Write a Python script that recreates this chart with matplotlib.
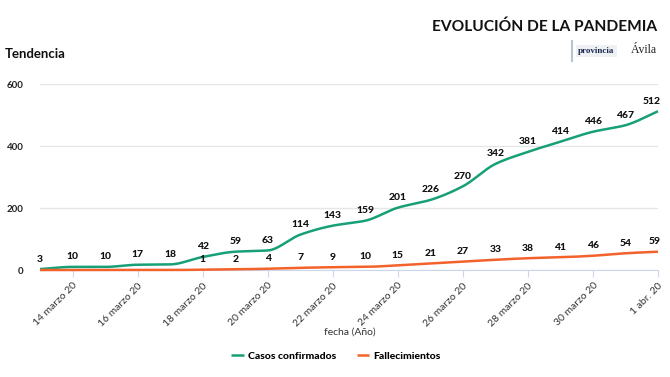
import numpy as np
import matplotlib
matplotlib.use("Agg")
import matplotlib.pyplot as plt
import matplotlib.dates as mdates
import datetime as dt

dates = [dt.date(2020, 3, 13) + dt.timedelta(days=i) for i in range(20)]
casos = [3, 10, 10, 17, 18, 42, 59, 63, 114, 143, 159, 201, 226, 270, 342, 381, 414, 446, 467, 512]
fallecidos = [0, 0, 0, 0, 0, 1, 2, 4, 7, 9, 10, 15, 21, 27, 33, 38, 41, 46, 54, 59]
tick_dates = [dt.date(2020, 3, 14) + dt.timedelta(days=2 * i) for i in range(10)]
tick_labels = ["14 marzo 20", "16 marzo 20", "18 marzo 20", "20 marzo 20", "22 marzo 20",
               "24 marzo 20", "26 marzo 20", "28 marzo 20", "30 marzo 20", "1 abr. 20"]
yticks = [0, 200, 400, 600]

GREEN = "#17a078"
ORANGE = "#f4622c"
FONT = "Lato"

plt.rcParams['font.family'] = [FONT, 'DejaVu Sans']


def monotone(x, y, n=20):
    x = np.asarray(x, float); y = np.asarray(y, float)
    h = np.diff(x); d = np.diff(y) / h
    m = np.zeros_like(y)
    m[0] = d[0]; m[-1] = d[-1]
    for i in range(1, len(y) - 1):
        if d[i - 1] * d[i] <= 0:
            m[i] = 0
        else:
            w1 = 2 * h[i] + h[i - 1]; w2 = h[i] + 2 * h[i - 1]
            m[i] = (w1 + w2) / (w1 / d[i - 1] + w2 / d[i])
    xs, ys = [], []
    for i in range(len(x) - 1):
        t = np.linspace(0, 1, n, endpoint=False)
        h00 = 2 * t**3 - 3 * t**2 + 1; h10 = t**3 - 2 * t**2 + t
        h01 = -2 * t**3 + 3 * t**2; h11 = t**3 - t**2
        xs.append(x[i] + t * h[i])
        ys.append(h00 * y[i] + h10 * h[i] * m[i] + h01 * y[i + 1] + h11 * h[i] * m[i + 1])
    xs.append([x[-1]]); ys.append([y[-1]])
    return np.concatenate(xs), np.concatenate(ys)


fig = plt.figure(figsize=(6.7, 3.77), dpi=100)
ax = fig.add_axes([40 / 670, 107 / 377, 618 / 670, 186 / 377])

xnum = mdates.date2num(dates)
for vals, col, lab, skip0 in [(casos, GREEN, "Casos confirmados", False),
                              (fallecidos, ORANGE, "Fallecimientos", True)]:
    sx, sy = monotone(xnum, vals)
    ax.plot(sx, sy, color=col, lw=1.8, label=lab, solid_capstyle='butt', zorder=3, clip_on=False)
    for i, (xv, v) in enumerate(zip(xnum, vals)):
        if skip0 and v == 0:
            continue
        last = i == len(vals) - 1
        ax.annotate(str(v), (xv, v), xytext=(2 if last else 0, 4), textcoords='offset points',
                    ha='right' if last else 'center', va='bottom', fontsize=7.5,
                    fontweight='black', color='#111111', zorder=5)

ax.set_xlim(xnum[0], xnum[-1])
ax.set_ylim(0, 600)
ax.set_yticks(yticks)
ax.set_yticklabels([str(v) for v in yticks], fontsize=7, fontweight='bold', color='#222222')
ax.set_xticks(mdates.date2num(tick_dates))
ax.set_xticklabels(tick_labels, rotation=45, ha='right', va='top', rotation_mode='anchor',
                   fontsize=7.5, color='#333333')
ax.tick_params(axis='y', length=0, pad=12)
ax.tick_params(axis='x', length=5, color='#ccd6eb', pad=3)
ax.grid(axis='y', color='#e6e6e6', lw=1)
ax.set_axisbelow(True)
for s in ['top', 'right', 'left']:
    ax.spines[s].set_visible(False)
ax.spines['bottom'].set_color('#ccd6eb')
ax.spines['bottom'].set_zorder(2)

ax.set_xlabel("fecha (Año)", fontsize=7.5, color='#333333', labelpad=2)
ax.xaxis.set_label_coords((350 - 40) / 618, -(328 - 270) / 186)

leg = fig.legend(loc='center', bbox_to_anchor=(336 / 670, 1 - 356 / 377), ncol=2, frameon=False,
                 prop={'family': FONT, 'weight': 'black', 'size': 7.5}, handlelength=1.2,
                 handletextpad=0.4, columnspacing=2.0)

fig.text(657 / 670, 1 - 27 / 377, "EVOLUCIÓN DE LA PANDEMIA", ha='right', va='center',
         fontsize=11.2, fontweight='bold', color='#111111')
fig.text(5 / 670, 1 - 54 / 377, "Tendencia", ha='left', va='center', fontsize=9.5,
         fontweight='bold', color='#111111')
fig.add_artist(plt.Line2D([572 / 670, 572 / 670], [1 - 41 / 377, 1 - 61 / 377], color='#b8c4d4', lw=1.5))
fig.text(578 / 670, 1 - 51 / 377, "provincia", ha='left', va='center', fontsize=6.5,
         family='Liberation Serif', fontweight='bold', color='#1a2a50',
         bbox=dict(boxstyle='square,pad=0.25', fc='#eef0f3', ec='none'))
fig.text(657 / 670, 1 - 50 / 377, "Ávila", ha='right', va='center', fontsize=8.5,
         family='Liberation Serif', color='#222222')

fig.savefig("out.png", dpi=100)
